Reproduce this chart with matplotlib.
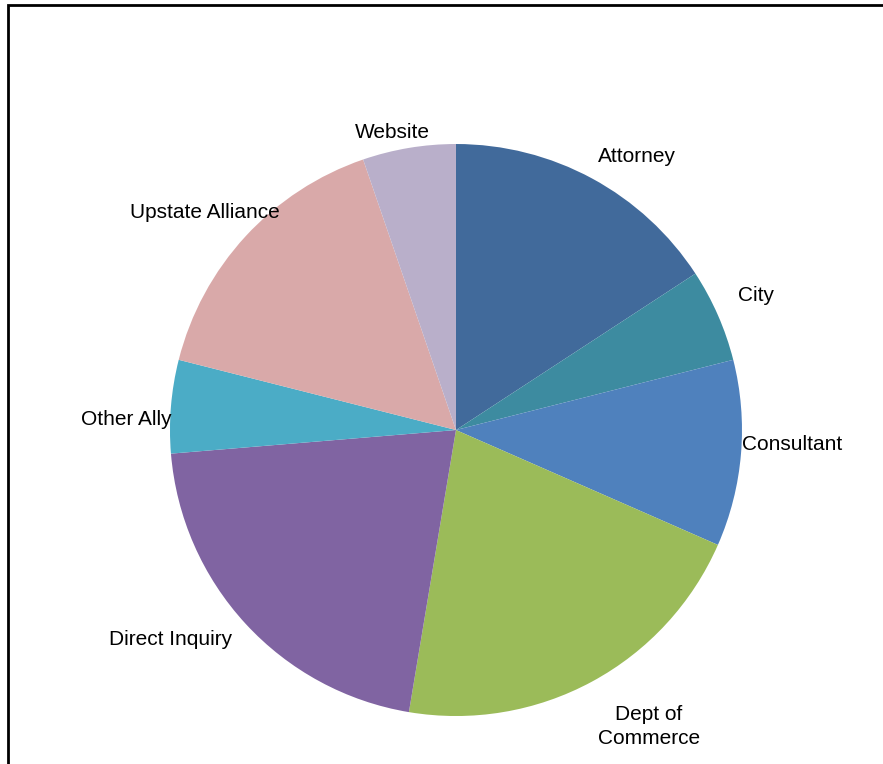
import matplotlib.pyplot as plt
from matplotlib.patches import Rectangle

# referral sources, clockwise from 12 o'clock
labels = ['Attorney', 'City', 'Consultant', 'Dept of\nCommerce', 'Direct Inquiry',
          'Other Ally', 'Upstate Alliance', 'Website']
counts = [3, 1, 2, 4, 4, 1, 3, 1]
colors = ['#416A9B', '#3D8BA0', '#4F81BD', '#9BBB59', '#8064A2',
          '#4BACC6', '#D9A9A9', '#B9AFCA']

# label anchor points (in pie radius units)
label_pos = [(0.633, 0.955), (1.049, 0.469), (1.175, -0.049), (0.675, -1.036),
             (-0.997, -0.731), (-1.154, 0.038), (-0.878, 0.759), (-0.224, 1.042)]

plt.rcParams['font.family'] = ['Liberation Sans', 'DejaVu Sans']

fig = plt.figure(figsize=(8.83, 7.64), dpi=100)
ax = fig.add_axes([0.1925, 0.0628, 0.6478, 0.7487])

ax.pie(counts, colors=colors, startangle=90, counterclock=False, radius=1,
       wedgeprops={'linewidth': 0})
ax.set_xlim(-1, 1)
ax.set_ylim(-1, 1)
ax.set_aspect('equal')
ax.axis('off')

for lab, (x, y) in zip(labels, label_pos):
    ax.text(x, y, lab, ha='center', va='center', fontsize=15,
            linespacing=1.3, clip_on=False)

# chart area border, runs off the right and bottom edges
frame = Rectangle((8 / 883, -0.1), 1.2, (764 - 5) / 764 + 0.1,
                  transform=fig.transFigure, fill=False, edgecolor='black',
                  linewidth=2, clip_on=False)
fig.add_artist(frame)

fig.savefig('out.png', dpi=100)
